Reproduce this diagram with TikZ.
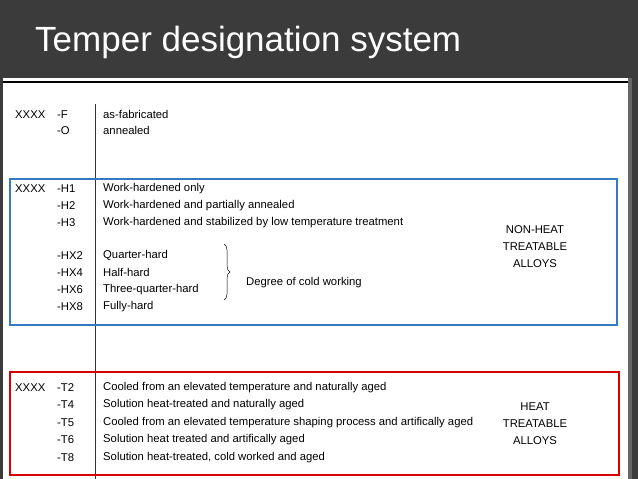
\documentclass[tikz,border=0pt]{standalone}
\usepackage{fontspec}
\setmainfont{Liberation Sans}
\usetikzlibrary{decorations.pathreplacing}
\begin{document}
\begin{tikzpicture}[x=1pt,y=-1pt,
  t/.style={anchor=west,inner sep=0pt,font=\fontsize{11.3}{12}\selectfont,yshift=-1.5pt},
  c/.style={align=center,inner sep=0pt,font=\fontsize{11.3}{17}\selectfont}]
\useasboundingbox (0,0) rectangle (638,479);
\fill[black!77] (0,0) rectangle (638,479);
\fill[white] (3,78) rectangle (628,479);
\fill[black!60] (628,78) rectangle (632,479);
\draw[black,line width=1.2pt] (3,82) -- (628,82);
\node[anchor=west,text=white,inner sep=0pt,font=\fontsize{35}{38}\selectfont] (title) at (35,42) {Temper designation system};
\coordinate (vt) at (95,104); \coordinate (vb) at (95,479);
\draw[black!80,line width=0.8pt] (vt) -- (vb);
\draw[blue!50!cyan!70!black!80,line width=1.6pt] (10,179) rectangle (617,325);
\draw[red!85!black,line width=1.6pt] (10,372) rectangle (619,475);
% top
\node[t] (x1) at (15,113) {XXXX}; \node[t] at (57,113) {-F}; \node[t] at (103,113) {as-fabricated};
\node[t] at (57,129) {-O}; \node[t] at (103,129) {annealed};
% blue
\node[t] at (15,187) {XXXX};
\foreach \a/\b/\y in {-H1/Work-hardened only/187,-H2/Work-hardened and partially annealed/204,-H3/Work-hardened and stabilized by low temperature treatment/221,-HX2/Quarter-hard/254,-HX4/Half-hard/271,-HX6/Three-quarter-hard/288,-HX8/Fully-hard/305}
  {\node[t] at (57,\y) {\a}; \node[t] at (103,\y) {\b};}
\coordinate (bt) at (224,244); \coordinate (bb) at (224,300);
\draw[decoration={brace,amplitude=6pt},decorate,line width=0.5pt] (bt) -- (bb);
\node[t] (deg) at (246,281) {Degree of cold working};
\node[c] (nh) at (535,247) {NON-HEAT\\TREATABLE\\ALLOYS};
% red
\node[t] at (15,386) {XXXX};
\foreach \a/\b/\y in {-T2/Cooled from an elevated temperature and naturally aged/386,-T4/Solution heat-treated and naturally aged/403,-T5/Cooled from an elevated temperature shaping process and artifically aged/421,-T6/Solution heat treated and artifically aged/438,-T8/{Solution heat-treated, cold worked and aged}/456}
  {\node[t] at (57,\y) {\a}; \node[t] at (103,\y) {\b};}
\node[c] (ht) at (535,424) {HEAT\\TREATABLE\\ALLOYS};
\end{tikzpicture}
\end{document}
